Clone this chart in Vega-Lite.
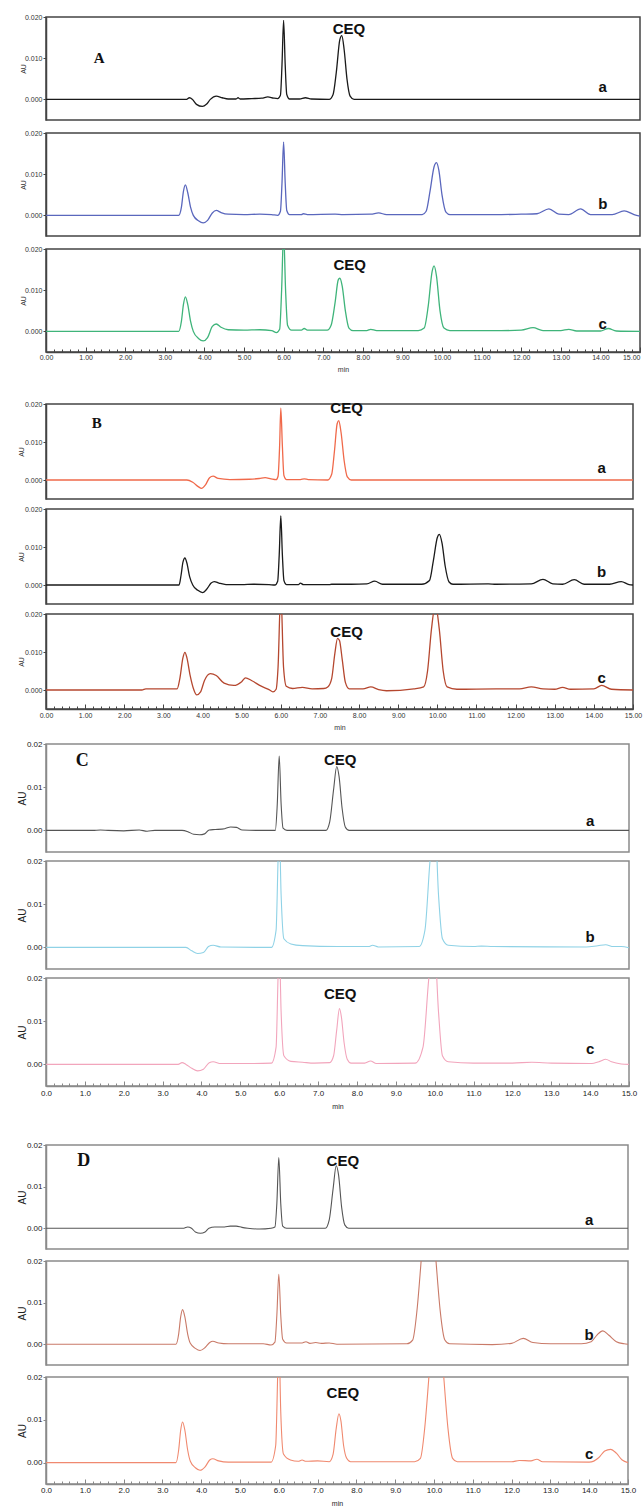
{
"$schema": "https://vega.github.io/schema/vega-lite/v6.json",
"background": "white",
"padding": {"left": 16, "top": 12, "right": 4, "bottom": 2},
"config": {"view": {"stroke": "#444", "strokeWidth": 1.5}},
"datasets": {
"labels": [
{"p":"Aa","k":"g","x":1.34,"y":0.0101,"t":"A"},{"p":"Aa","k":"ceq","x":7.65,"y":0.0171,"t":"CEQ"},{"p":"Aa","k":"s","x":14.06,"y":0.0031,"t":"a"},
{"p":"Ab","k":"s","x":14.06,"y":0.0028,"t":"b"},
{"p":"Ac","k":"ceq","x":7.67,"y":0.016,"t":"CEQ"},{"p":"Ac","k":"s","x":14.06,"y":0.0018,"t":"c"},
{"p":"Ba","k":"g","x":1.3,"y":0.0151,"t":"B"},{"p":"Ba","k":"ceq","x":7.68,"y":0.0189,"t":"CEQ"},{"p":"Ba","k":"s","x":14.2,"y":0.0032,"t":"a"},
{"p":"Bb","k":"s","x":14.2,"y":0.0033,"t":"b"},
{"p":"Bc","k":"ceq","x":7.68,"y":0.0152,"t":"CEQ"},{"p":"Bc","k":"s","x":14.2,"y":0.0032,"t":"c"},
{"p":"Ca","k":"g","x":0.93,"y":0.016,"t":"C"},{"p":"Ca","k":"ceq","x":7.57,"y":0.0162,"t":"CEQ"},{"p":"Ca","k":"s","x":14.0,"y":0.0022,"t":"a"},
{"p":"Cb","k":"s","x":14.0,"y":0.0025,"t":"b"},
{"p":"Cc","k":"ceq","x":7.57,"y":0.0162,"t":"CEQ"},{"p":"Cc","k":"s","x":14.0,"y":0.0035,"t":"c"},
{"p":"Da","k":"g","x":0.97,"y":0.0162,"t":"D"},{"p":"Da","k":"ceq","x":7.65,"y":0.0162,"t":"CEQ"},{"p":"Da","k":"s","x":14.0,"y":0.002,"t":"a"},
{"p":"Db","k":"s","x":14.0,"y":0.0022,"t":"b"},
{"p":"Dc","k":"ceq","x":7.65,"y":0.0162,"t":"CEQ"},{"p":"Dc","k":"s","x":14.0,"y":0.0019,"t":"c"}
],
"Aa": [{"x":0,"y":0},{"x":3.55,"y":0},{"x":3.62,"y":0.0004},{"x":3.7,"y":0},{"x":3.8,"y":-0.0012},{"x":3.95,"y":-0.0017},{"x":4.05,"y":-0.0012},{"x":4.15,"y":0},{"x":4.3,"y":0.0008},{"x":4.45,"y":0.0004},{"x":4.6,"y":0.0001},{"x":4.8,"y":0.0001},{"x":4.85,"y":0.0004},{"x":4.9,"y":0.0001},{"x":5.2,"y":0.0002},{"x":5.45,"y":0.0003},{"x":5.6,"y":0.0006},{"x":5.75,"y":0.0003},{"x":5.85,"y":0.0002},{"x":5.92,"y":0.001},{"x":5.96,"y":0.0085},{"x":6.0,"y":0.0192},{"x":6.04,"y":0.0085},{"x":6.08,"y":0.0012},{"x":6.15,"y":0.0001},{"x":6.4,"y":0.0001},{"x":6.55,"y":0.0004},{"x":6.7,"y":0.0001},{"x":7.15,"y":0},{"x":7.25,"y":0.0012},{"x":7.33,"y":0.0065},{"x":7.42,"y":0.0145},{"x":7.47,"y":0.0155},{"x":7.53,"y":0.012},{"x":7.6,"y":0.005},{"x":7.68,"y":0.0008},{"x":7.78,"y":0},{"x":15,"y":0}],
"Ab": [{"x":0,"y":0},{"x":3.35,"y":0},{"x":3.42,"y":0.002},{"x":3.47,"y":0.0058},{"x":3.52,"y":0.0074},{"x":3.58,"y":0.0055},{"x":3.65,"y":0.002},{"x":3.72,"y":0},{"x":3.85,"y":-0.0013},{"x":3.97,"y":-0.0018},{"x":4.08,"y":-0.0012},{"x":4.2,"y":0.0006},{"x":4.3,"y":0.0012},{"x":4.42,"y":0.0007},{"x":4.6,"y":0.0003},{"x":5.0,"y":0.0002},{"x":5.4,"y":0.0003},{"x":5.7,"y":0.0002},{"x":5.85,"y":0},{"x":5.92,"y":0.001},{"x":5.96,"y":0.008},{"x":6.0,"y":0.0178},{"x":6.04,"y":0.008},{"x":6.08,"y":0.0012},{"x":6.15,"y":0.0002},{"x":6.45,"y":0.0002},{"x":6.5,"y":0.0004},{"x":6.6,"y":0.0002},{"x":7.3,"y":0.0003},{"x":7.5,"y":0.0002},{"x":8.2,"y":0.0003},{"x":8.4,"y":0.0006},{"x":8.6,"y":0.0002},{"x":9.5,"y":0.0002},{"x":9.6,"y":0.001},{"x":9.7,"y":0.006},{"x":9.8,"y":0.0118},{"x":9.86,"y":0.0128},{"x":9.92,"y":0.011},{"x":10.0,"y":0.005},{"x":10.1,"y":0.0008},{"x":10.2,"y":0.0002},{"x":11.5,"y":0.0002},{"x":12.0,"y":0.0003},{"x":12.4,"y":0.0004},{"x":12.7,"y":0.0016},{"x":12.95,"y":0.0003},{"x":13.2,"y":0.0002},{"x":13.5,"y":0.0016},{"x":13.75,"y":0.0002},{"x":14.3,"y":0.0002},{"x":14.6,"y":0.0011},{"x":14.85,"y":0.0002},{"x":15,"y":-0.0002}],
"Ac": [{"x":0,"y":0},{"x":3.35,"y":0},{"x":3.42,"y":0.0025},{"x":3.47,"y":0.0065},{"x":3.52,"y":0.0084},{"x":3.58,"y":0.0065},{"x":3.65,"y":0.0025},{"x":3.72,"y":0},{"x":3.85,"y":-0.0017},{"x":3.97,"y":-0.0023},{"x":4.08,"y":-0.0015},{"x":4.2,"y":0.0012},{"x":4.3,"y":0.0018},{"x":4.42,"y":0.001},{"x":4.6,"y":0.0004},{"x":5.0,"y":0.0003},{"x":5.4,"y":0.0004},{"x":5.7,"y":0.0002},{"x":5.82,"y":-0.0003},{"x":5.9,"y":0.0005},{"x":5.95,"y":0.01},{"x":6.0,"y":0.024},{"x":6.05,"y":0.01},{"x":6.1,"y":0.0015},{"x":6.2,"y":0.0003},{"x":6.45,"y":0.0003},{"x":6.52,"y":0.0007},{"x":6.6,"y":0.0003},{"x":7.1,"y":0.0003},{"x":7.2,"y":0.0015},{"x":7.3,"y":0.007},{"x":7.38,"y":0.0125},{"x":7.42,"y":0.0129},{"x":7.48,"y":0.011},{"x":7.56,"y":0.005},{"x":7.65,"y":0.0008},{"x":7.75,"y":0.0002},{"x":8.1,"y":0.0002},{"x":8.2,"y":0.0005},{"x":8.35,"y":0.0002},{"x":9.4,"y":0.0002},{"x":9.55,"y":0.0008},{"x":9.65,"y":0.006},{"x":9.75,"y":0.0145},{"x":9.8,"y":0.0159},{"x":9.86,"y":0.0135},{"x":9.95,"y":0.005},{"x":10.05,"y":0.0008},{"x":10.2,"y":0.0002},{"x":11.5,"y":0.0002},{"x":12.0,"y":0.0003},{"x":12.3,"y":0.0009},{"x":12.55,"y":0.0002},{"x":13.0,"y":0.0002},{"x":13.2,"y":0.0005},{"x":13.4,"y":0.0001},{"x":14.0,"y":0.0001},{"x":14.2,"y":0.0007},{"x":14.4,"y":0.0001},{"x":15,"y":0}],
"Ba": [{"x":0,"y":0},{"x":3.6,"y":0},{"x":3.75,"y":-0.0006},{"x":3.9,"y":-0.0018},{"x":3.97,"y":-0.0022},{"x":4.08,"y":-0.0012},{"x":4.18,"y":0.0006},{"x":4.27,"y":0.001},{"x":4.4,"y":0.0004},{"x":4.7,"y":0.0001},{"x":5.2,"y":0.0002},{"x":5.45,"y":0.0004},{"x":5.6,"y":0.0006},{"x":5.75,"y":0.0003},{"x":5.88,"y":0.0001},{"x":5.93,"y":0.001},{"x":5.97,"y":0.009},{"x":6.0,"y":0.0189},{"x":6.04,"y":0.009},{"x":6.08,"y":0.0012},{"x":6.15,"y":0.0001},{"x":6.5,"y":0.0001},{"x":6.6,"y":0.0003},{"x":6.7,"y":0.0001},{"x":7.2,"y":0},{"x":7.3,"y":0.0015},{"x":7.37,"y":0.0075},{"x":7.44,"y":0.0148},{"x":7.48,"y":0.0156},{"x":7.54,"y":0.0125},{"x":7.62,"y":0.005},{"x":7.7,"y":0.0008},{"x":7.8,"y":0},{"x":15,"y":0}],
"Bb": [{"x":0,"y":0},{"x":3.4,"y":0},{"x":3.45,"y":0.0025},{"x":3.5,"y":0.006},{"x":3.55,"y":0.0071},{"x":3.6,"y":0.0058},{"x":3.67,"y":0.0022},{"x":3.75,"y":0},{"x":3.88,"y":-0.0014},{"x":4.0,"y":-0.002},{"x":4.1,"y":-0.0012},{"x":4.22,"y":0.0005},{"x":4.3,"y":0.0009},{"x":4.42,"y":0.0005},{"x":4.6,"y":0.0001},{"x":5.0,"y":0.0001},{"x":5.3,"y":0.0002},{"x":5.7,"y":0.0001},{"x":5.85,"y":0},{"x":5.92,"y":0.001},{"x":5.96,"y":0.008},{"x":6.0,"y":0.0182},{"x":6.04,"y":0.008},{"x":6.08,"y":0.0012},{"x":6.15,"y":0.0001},{"x":6.45,"y":0.0001},{"x":6.5,"y":0.0005},{"x":6.58,"y":0.0001},{"x":7.25,"y":0.0001},{"x":7.3,"y":0.0002},{"x":7.8,"y":0.0002},{"x":8.2,"y":0.0003},{"x":8.4,"y":0.001},{"x":8.6,"y":0.0002},{"x":9.6,"y":0.0002},{"x":9.8,"y":0.0012},{"x":9.9,"y":0.0065},{"x":10.0,"y":0.0125},{"x":10.05,"y":0.0133},{"x":10.12,"y":0.011},{"x":10.2,"y":0.005},{"x":10.3,"y":0.0008},{"x":10.4,"y":0.0002},{"x":11.3,"y":0.0003},{"x":11.5,"y":0.0002},{"x":12.4,"y":0.0003},{"x":12.7,"y":0.0015},{"x":12.95,"y":0.0003},{"x":13.2,"y":0.0002},{"x":13.5,"y":0.0014},{"x":13.75,"y":0.0002},{"x":14.4,"y":0.0002},{"x":14.7,"y":0.0009},{"x":14.9,"y":0.0001},{"x":15,"y":0}],
"Bc": [{"x":0,"y":0},{"x":2.45,"y":0},{"x":2.55,"y":0.0003},{"x":3.35,"y":0.0003},{"x":3.42,"y":0.003},{"x":3.5,"y":0.0085},{"x":3.55,"y":0.0099},{"x":3.6,"y":0.0085},{"x":3.68,"y":0.004},{"x":3.78,"y":0},{"x":3.85,"y":-0.0013},{"x":3.95,"y":-0.0005},{"x":4.05,"y":0.0025},{"x":4.2,"y":0.0043},{"x":4.35,"y":0.0038},{"x":4.55,"y":0.0018},{"x":4.8,"y":0.0012},{"x":5.0,"y":0.0022},{"x":5.1,"y":0.0032},{"x":5.25,"y":0.0025},{"x":5.5,"y":0.001},{"x":5.7,"y":0.0001},{"x":5.8,"y":-0.0005},{"x":5.88,"y":0.0002},{"x":5.93,"y":0.006},{"x":6.0,"y":0.026},{"x":6.07,"y":0.006},{"x":6.14,"y":0.001},{"x":6.3,"y":0.0004},{"x":6.55,"y":0.0007},{"x":6.8,"y":0.0003},{"x":7.1,"y":0.0004},{"x":7.2,"y":0.0008},{"x":7.3,"y":0.003},{"x":7.38,"y":0.0095},{"x":7.45,"y":0.0136},{"x":7.5,"y":0.013},{"x":7.57,"y":0.008},{"x":7.65,"y":0.002},{"x":7.75,"y":0.0003},{"x":8.1,"y":0.0003},{"x":8.3,"y":0.0008},{"x":8.5,"y":0.0001},{"x":8.7,"y":-0.0002},{"x":9.4,"y":0.0003},{"x":9.65,"y":0.0008},{"x":9.75,"y":0.005},{"x":9.85,"y":0.016},{"x":9.95,"y":0.0225},{"x":10.05,"y":0.016},{"x":10.15,"y":0.005},{"x":10.25,"y":0.0008},{"x":10.5,"y":0.0002},{"x":11.5,"y":0.0003},{"x":12.1,"y":0.0003},{"x":12.4,"y":0.0008},{"x":12.7,"y":0.0003},{"x":13.0,"y":0.0002},{"x":13.2,"y":0.0007},{"x":13.4,"y":0.0002},{"x":14.0,"y":0.0003},{"x":14.2,"y":0.0012},{"x":14.45,"y":0.0002},{"x":15,"y":0}],
"Ca": [{"x":0,"y":0},{"x":1.2,"y":0},{"x":1.4,"y":0.0001},{"x":1.6,"y":0},{"x":2.0,"y":-0.0001},{"x":2.4,"y":0.0001},{"x":2.6,"y":-0.0002},{"x":2.8,"y":0},{"x":3.5,"y":0},{"x":3.65,"y":-0.0003},{"x":3.8,"y":-0.0009},{"x":3.95,"y":-0.001},{"x":4.08,"y":-0.0008},{"x":4.2,"y":0.0001},{"x":4.35,"y":0.0002},{"x":4.6,"y":0.0004},{"x":4.75,"y":0.0008},{"x":4.9,"y":0.0007},{"x":5.05,"y":0.0001},{"x":5.5,"y":0},{"x":5.9,"y":0},{"x":5.95,"y":0.006},{"x":6.0,"y":0.0172},{"x":6.05,"y":0.006},{"x":6.1,"y":0.0005},{"x":6.2,"y":0},{"x":7.2,"y":0},{"x":7.3,"y":0.002},{"x":7.4,"y":0.0095},{"x":7.48,"y":0.0148},{"x":7.54,"y":0.0125},{"x":7.62,"y":0.005},{"x":7.7,"y":0.0008},{"x":7.8,"y":0},{"x":15,"y":0}],
"Cb": [{"x":0,"y":0},{"x":3.6,"y":0},{"x":3.75,"y":-0.0008},{"x":3.9,"y":-0.0014},{"x":4.05,"y":-0.0012},{"x":4.18,"y":0.0002},{"x":4.3,"y":0.0005},{"x":4.5,"y":0.0001},{"x":5.8,"y":0},{"x":5.92,"y":0.004},{"x":5.97,"y":0.02},{"x":6.0,"y":0.028},{"x":6.05,"y":0.012},{"x":6.12,"y":0.002},{"x":6.3,"y":0.0008},{"x":6.6,"y":0.0004},{"x":7.5,"y":0.0002},{"x":8.3,"y":0.0002},{"x":8.4,"y":0.0005},{"x":8.55,"y":0.0001},{"x":9.6,"y":0.0002},{"x":9.75,"y":0.004},{"x":9.88,"y":0.02},{"x":10.0,"y":0.03},{"x":10.1,"y":0.012},{"x":10.2,"y":0.002},{"x":10.35,"y":0.0005},{"x":11.0,"y":0.0002},{"x":11.2,"y":0.0003},{"x":11.5,"y":0.0002},{"x":13.9,"y":0.0001},{"x":14.2,"y":0.0004},{"x":14.4,"y":0.0006},{"x":14.6,"y":0.0002},{"x":14.8,"y":0.0002},{"x":15,"y":-0.0001}],
"Cc": [{"x":0,"y":0},{"x":3.4,"y":0},{"x":3.5,"y":0.0004},{"x":3.6,"y":0},{"x":3.75,"y":-0.0009},{"x":3.9,"y":-0.0015},{"x":4.05,"y":-0.0011},{"x":4.2,"y":0.0004},{"x":4.3,"y":0.0006},{"x":4.5,"y":0.0002},{"x":5.0,"y":0.0002},{"x":5.8,"y":0.0003},{"x":5.92,"y":0.004},{"x":5.97,"y":0.02},{"x":6.0,"y":0.028},{"x":6.05,"y":0.012},{"x":6.12,"y":0.002},{"x":6.3,"y":0.0007},{"x":6.6,"y":0.0005},{"x":6.9,"y":0.0003},{"x":7.3,"y":0.0004},{"x":7.4,"y":0.002},{"x":7.48,"y":0.008},{"x":7.55,"y":0.0129},{"x":7.6,"y":0.011},{"x":7.67,"y":0.005},{"x":7.75,"y":0.0012},{"x":7.85,"y":0.0003},{"x":8.2,"y":0.0003},{"x":8.35,"y":0.0008},{"x":8.5,"y":0.0002},{"x":9.5,"y":0.0003},{"x":9.7,"y":0.004},{"x":9.85,"y":0.02},{"x":9.98,"y":0.03},{"x":10.1,"y":0.012},{"x":10.2,"y":0.002},{"x":10.35,"y":0.0006},{"x":11.0,"y":0.0003},{"x":12.0,"y":0.0003},{"x":12.5,"y":0.0005},{"x":13.0,"y":0.0003},{"x":14.0,"y":0.0002},{"x":14.25,"y":0.0007},{"x":14.4,"y":0.0012},{"x":14.55,"y":0.0006},{"x":14.8,"y":0.0001},{"x":15,"y":0}],
"Da": [{"x":0,"y":0},{"x":3.55,"y":0},{"x":3.65,"y":0.0003},{"x":3.75,"y":0},{"x":3.85,"y":-0.0009},{"x":3.98,"y":-0.0012},{"x":4.1,"y":-0.0009},{"x":4.2,"y":0},{"x":4.35,"y":0.0003},{"x":4.6,"y":0.0003},{"x":4.75,"y":0.0005},{"x":4.9,"y":0.0005},{"x":5.05,"y":0.0002},{"x":5.2,"y":0},{"x":5.5,"y":-0.0002},{"x":5.8,"y":0},{"x":5.9,"y":0.0003},{"x":5.95,"y":0.006},{"x":6.0,"y":0.017},{"x":6.05,"y":0.006},{"x":6.1,"y":0.0005},{"x":6.2,"y":0},{"x":7.2,"y":0},{"x":7.3,"y":0.002},{"x":7.4,"y":0.0095},{"x":7.48,"y":0.015},{"x":7.54,"y":0.0128},{"x":7.62,"y":0.005},{"x":7.7,"y":0.0008},{"x":7.8,"y":0},{"x":15,"y":0}],
"Db": [{"x":0,"y":0},{"x":3.35,"y":0},{"x":3.42,"y":0.0025},{"x":3.47,"y":0.0065},{"x":3.52,"y":0.0083},{"x":3.58,"y":0.0065},{"x":3.65,"y":0.0025},{"x":3.72,"y":0.0002},{"x":3.85,"y":-0.001},{"x":3.97,"y":-0.0015},{"x":4.1,"y":-0.0008},{"x":4.22,"y":0.0004},{"x":4.3,"y":0.0007},{"x":4.45,"y":0.0003},{"x":4.7,"y":0.0001},{"x":5.6,"y":0.0001},{"x":5.8,"y":-0.0002},{"x":5.9,"y":0.0005},{"x":5.95,"y":0.007},{"x":6.0,"y":0.0168},{"x":6.05,"y":0.007},{"x":6.1,"y":0.0012},{"x":6.2,"y":0.0003},{"x":6.6,"y":0.0003},{"x":6.7,"y":0.0006},{"x":6.8,"y":0.0002},{"x":6.95,"y":0.0004},{"x":7.1,"y":0.0002},{"x":7.3,"y":0.0003},{"x":7.5,"y":0},{"x":9.3,"y":0.0001},{"x":9.45,"y":0.001},{"x":9.56,"y":0.008},{"x":9.66,"y":0.019},{"x":9.75,"y":0.03},{"x":9.86,"y":0.038},{"x":9.97,"y":0.03},{"x":10.06,"y":0.019},{"x":10.16,"y":0.008},{"x":10.28,"y":0.001},{"x":10.4,"y":0.0001},{"x":11.5,"y":-0.0001},{"x":12.0,"y":0.0002},{"x":12.3,"y":0.0014},{"x":12.55,"y":0.0004},{"x":13.0,"y":0.0001},{"x":13.8,"y":0.0001},{"x":14.05,"y":0.0006},{"x":14.2,"y":0.0022},{"x":14.35,"y":0.0032},{"x":14.5,"y":0.0022},{"x":14.7,"y":0.0006},{"x":14.9,"y":0.0001},{"x":15,"y":0}],
"Dc": [{"x":0,"y":0},{"x":3.35,"y":0},{"x":3.42,"y":0.003},{"x":3.47,"y":0.0075},{"x":3.52,"y":0.0095},{"x":3.58,"y":0.0075},{"x":3.65,"y":0.003},{"x":3.72,"y":0.0003},{"x":3.85,"y":-0.0012},{"x":3.97,"y":-0.0018},{"x":4.1,"y":-0.001},{"x":4.22,"y":0.0006},{"x":4.3,"y":0.0009},{"x":4.45,"y":0.0004},{"x":4.7,"y":0.0001},{"x":5.8,"y":0.0001},{"x":5.92,"y":0.004},{"x":5.97,"y":0.02},{"x":6.0,"y":0.03},{"x":6.05,"y":0.012},{"x":6.12,"y":0.002},{"x":6.3,"y":0.0006},{"x":6.5,"y":0.0003},{"x":6.6,"y":0.0006},{"x":6.7,"y":0.0003},{"x":7.0,"y":0.0004},{"x":7.3,"y":0.0002},{"x":7.4,"y":0.002},{"x":7.48,"y":0.008},{"x":7.55,"y":0.0114},{"x":7.6,"y":0.0098},{"x":7.67,"y":0.004},{"x":7.75,"y":0.001},{"x":7.85,"y":0.0002},{"x":9.5,"y":0.0002},{"x":9.65,"y":0.001},{"x":9.76,"y":0.008},{"x":9.86,"y":0.019},{"x":9.95,"y":0.03},{"x":10.06,"y":0.038},{"x":10.17,"y":0.03},{"x":10.26,"y":0.019},{"x":10.36,"y":0.008},{"x":10.48,"y":0.001},{"x":10.6,"y":0.0002},{"x":12.0,"y":0.0002},{"x":12.2,"y":0.0005},{"x":12.5,"y":0.0004},{"x":12.65,"y":0.0008},{"x":12.8,"y":0.0002},{"x":14.0,"y":0.0001},{"x":14.25,"y":0.0012},{"x":14.4,"y":0.0027},{"x":14.55,"y":0.0031},{"x":14.7,"y":0.0022},{"x":14.85,"y":0.0006},{"x":15,"y":0}]
},
"spacing": 8,
"vconcat": [
{"spacing": 26, "vconcat": [
 {"spacing": 7, "vconcat": [
  {"width": 594, "height": 103, "view": {"stroke": "#444", "strokeWidth": 1.5},
   "encoding": {"x": {"field": "x", "type": "quantitative", "scale": {"domain": [0, 15], "nice": false, "zero": false}, "axis": null},
     "y": {"field": "y", "type": "quantitative", "scale": {"domain": [-0.005, 0.02], "nice": false, "zero": false}, "axis": {"values": [0, 0.01, 0.02], "format": ".3f", "title": "AU", "titleFont": "Liberation Sans", "titleFontSize": 7, "titleFontWeight": "normal", "titleColor": "#333", "titlePadding": 2, "labelFont": "Liberation Sans", "labelFontSize": 7, "labelColor": "#333", "labelPadding": 1, "tickSize": 3, "tickColor": "#444", "domainColor": "#444", "domainWidth": 1.5, "grid": false, "minExtent": 18, "maxExtent": 18, "labelFlush": false, "labelOverlap": false}}},
   "layer": [
    {"data": {"name": "Aa"}, "mark": {"type": "line", "color": "#1a1a1a", "strokeWidth": 1.3, "clip": true, "interpolate": "monotone"}},
    {"data": {"name": "labels"}, "transform": [{"filter": "datum.p == 'Aa' && datum.k == 'g'"}], "mark": {"type": "text", "font": "Liberation Serif", "fontWeight": "bold", "fontSize": 15, "color": "#111"}, "encoding": {"text": {"field": "t"}}},
    {"data": {"name": "labels"}, "transform": [{"filter": "datum.p == 'Aa' && datum.k == 'ceq'"}], "mark": {"type": "text", "font": "Liberation Sans", "fontWeight": "bold", "fontSize": 15, "color": "#111"}, "encoding": {"text": {"field": "t"}}},
    {"data": {"name": "labels"}, "transform": [{"filter": "datum.p == 'Aa' && datum.k == 's'"}], "mark": {"type": "text", "font": "Liberation Sans", "fontWeight": "bold", "fontSize": 15, "color": "#111"}, "encoding": {"text": {"field": "t"}}}
   ]},
  {"width": 594, "height": 103, "view": {"stroke": "#444", "strokeWidth": 1.5},
   "encoding": {"x": {"field": "x", "type": "quantitative", "scale": {"domain": [0, 15], "nice": false, "zero": false}, "axis": null},
     "y": {"field": "y", "type": "quantitative", "scale": {"domain": [-0.005, 0.02], "nice": false, "zero": false}, "axis": {"values": [0, 0.01, 0.02], "format": ".3f", "title": "AU", "titleFont": "Liberation Sans", "titleFontSize": 7, "titleFontWeight": "normal", "titleColor": "#333", "titlePadding": 2, "labelFont": "Liberation Sans", "labelFontSize": 7, "labelColor": "#333", "labelPadding": 1, "tickSize": 3, "tickColor": "#444", "domainColor": "#444", "domainWidth": 1.5, "grid": false, "minExtent": 18, "maxExtent": 18, "labelFlush": false, "labelOverlap": false}}},
   "layer": [
    {"data": {"name": "Ab"}, "mark": {"type": "line", "color": "#5a67bd", "strokeWidth": 1.3, "clip": true, "interpolate": "monotone"}},
    {"data": {"name": "labels"}, "transform": [{"filter": "datum.p == 'Ab' && datum.k == 's'"}], "mark": {"type": "text", "font": "Liberation Sans", "fontWeight": "bold", "fontSize": 15, "color": "#111"}, "encoding": {"text": {"field": "t"}}}
   ]},
  {"width": 594, "height": 103, "view": {"stroke": "#444", "strokeWidth": 1.5},
   "encoding": {"x": {"field": "x", "type": "quantitative", "scale": {"domain": [0, 15], "nice": false, "zero": false}, "axis": {"values": [0,0.2,0.4,0.6,0.8,1,1.2,1.4,1.6,1.8,2,2.2,2.4,2.6,2.8,3,3.2,3.4,3.6,3.8,4,4.2,4.4,4.6,4.8,5,5.2,5.4,5.6,5.8,6,6.2,6.4,6.6,6.8,7,7.2,7.4,7.6,7.8,8,8.2,8.4,8.6,8.8,9,9.2,9.4,9.6,9.8,10,10.2,10.4,10.6,10.8,11,11.2,11.4,11.6,11.8,12,12.2,12.4,12.6,12.8,13,13.2,13.4,13.6,13.8,14,14.2,14.4,14.6,14.8,15], "labelExpr": "abs(datum.value - round(datum.value)) < 0.01 ? format(datum.value, '.2f') : ''", "labelAlign": {"condition": {"test": "datum.value > 14.9", "value": "right"}, "value": "center"}, "tickSize": {"condition": {"test": "abs(datum.value - round(datum.value)) < 0.01", "value": -5}, "value": -3}, "labelPadding": 6, "title": "min", "titleFont": "Liberation Sans", "titleFontSize": 7, "titleFontWeight": "normal", "titleColor": "#333", "titlePadding": 3, "labelFont": "Liberation Sans", "labelFontSize": 7, "labelColor": "#333", "labelOverlap": false, "labelFlush": false, "grid": false, "domainColor": "#444", "domainWidth": 1.5, "tickColor": "#444"}},
     "y": {"field": "y", "type": "quantitative", "scale": {"domain": [-0.005, 0.02], "nice": false, "zero": false}, "axis": {"values": [0, 0.01, 0.02], "format": ".3f", "title": "AU", "titleFont": "Liberation Sans", "titleFontSize": 7, "titleFontWeight": "normal", "titleColor": "#333", "titlePadding": 2, "labelFont": "Liberation Sans", "labelFontSize": 7, "labelColor": "#333", "labelPadding": 1, "tickSize": 3, "tickColor": "#444", "domainColor": "#444", "domainWidth": 1.5, "grid": false, "minExtent": 18, "maxExtent": 18, "labelFlush": false, "labelOverlap": false}}},
   "layer": [
    {"data": {"name": "Ac"}, "mark": {"type": "line", "color": "#3fb47a", "strokeWidth": 1.3, "clip": true, "interpolate": "monotone"}},
    {"data": {"name": "labels"}, "transform": [{"filter": "datum.p == 'Ac' && datum.k == 'ceq'"}], "mark": {"type": "text", "font": "Liberation Sans", "fontWeight": "bold", "fontSize": 15, "color": "#111"}, "encoding": {"text": {"field": "t"}}},
    {"data": {"name": "labels"}, "transform": [{"filter": "datum.p == 'Ac' && datum.k == 's'"}], "mark": {"type": "text", "font": "Liberation Sans", "fontWeight": "bold", "fontSize": 15, "color": "#111"}, "encoding": {"text": {"field": "t"}}}
   ]}
 ]},
 {"spacing": 4, "vconcat": [
  {"width": 587, "height": 95, "view": {"stroke": "#444", "strokeWidth": 1.5},
   "encoding": {"x": {"field": "x", "type": "quantitative", "scale": {"domain": [0, 15], "nice": false, "zero": false}, "axis": null},
     "y": {"field": "y", "type": "quantitative", "scale": {"domain": [-0.005, 0.02], "nice": false, "zero": false}, "axis": {"values": [0, 0.01, 0.02], "format": ".3f", "title": "AU", "titleFont": "Liberation Sans", "titleFontSize": 7, "titleFontWeight": "normal", "titleColor": "#333", "titlePadding": 4, "labelFont": "Liberation Sans", "labelFontSize": 7, "labelColor": "#333", "labelPadding": 1, "tickSize": 3, "tickColor": "#444", "domainColor": "#444", "domainWidth": 1.5, "grid": false, "minExtent": 18, "maxExtent": 18, "labelFlush": false, "labelOverlap": false}}},
   "layer": [
    {"data": {"name": "Ba"}, "mark": {"type": "line", "color": "#f0694a", "strokeWidth": 1.3, "clip": true, "interpolate": "monotone"}},
    {"data": {"name": "labels"}, "transform": [{"filter": "datum.p == 'Ba' && datum.k == 'g'"}], "mark": {"type": "text", "font": "Liberation Serif", "fontWeight": "bold", "fontSize": 15, "color": "#111"}, "encoding": {"text": {"field": "t"}}},
    {"data": {"name": "labels"}, "transform": [{"filter": "datum.p == 'Ba' && datum.k == 'ceq'"}], "mark": {"type": "text", "font": "Liberation Sans", "fontWeight": "bold", "fontSize": 15, "color": "#111"}, "encoding": {"text": {"field": "t"}}},
    {"data": {"name": "labels"}, "transform": [{"filter": "datum.p == 'Ba' && datum.k == 's'"}], "mark": {"type": "text", "font": "Liberation Sans", "fontWeight": "bold", "fontSize": 15, "color": "#111"}, "encoding": {"text": {"field": "t"}}}
   ]},
  {"width": 587, "height": 95, "view": {"stroke": "#444", "strokeWidth": 1.5},
   "encoding": {"x": {"field": "x", "type": "quantitative", "scale": {"domain": [0, 15], "nice": false, "zero": false}, "axis": null},
     "y": {"field": "y", "type": "quantitative", "scale": {"domain": [-0.005, 0.02], "nice": false, "zero": false}, "axis": {"values": [0, 0.01, 0.02], "format": ".3f", "title": "AU", "titleFont": "Liberation Sans", "titleFontSize": 7, "titleFontWeight": "normal", "titleColor": "#333", "titlePadding": 4, "labelFont": "Liberation Sans", "labelFontSize": 7, "labelColor": "#333", "labelPadding": 1, "tickSize": 3, "tickColor": "#444", "domainColor": "#444", "domainWidth": 1.5, "grid": false, "minExtent": 18, "maxExtent": 18, "labelFlush": false, "labelOverlap": false}}},
   "layer": [
    {"data": {"name": "Bb"}, "mark": {"type": "line", "color": "#1a1a1a", "strokeWidth": 1.3, "clip": true, "interpolate": "monotone"}},
    {"data": {"name": "labels"}, "transform": [{"filter": "datum.p == 'Bb' && datum.k == 's'"}], "mark": {"type": "text", "font": "Liberation Sans", "fontWeight": "bold", "fontSize": 15, "color": "#111"}, "encoding": {"text": {"field": "t"}}}
   ]},
  {"width": 587, "height": 95, "view": {"stroke": "#444", "strokeWidth": 1.5},
   "encoding": {"x": {"field": "x", "type": "quantitative", "scale": {"domain": [0, 15], "nice": false, "zero": false}, "axis": {"values": [0,0.2,0.4,0.6,0.8,1,1.2,1.4,1.6,1.8,2,2.2,2.4,2.6,2.8,3,3.2,3.4,3.6,3.8,4,4.2,4.4,4.6,4.8,5,5.2,5.4,5.6,5.8,6,6.2,6.4,6.6,6.8,7,7.2,7.4,7.6,7.8,8,8.2,8.4,8.6,8.8,9,9.2,9.4,9.6,9.8,10,10.2,10.4,10.6,10.8,11,11.2,11.4,11.6,11.8,12,12.2,12.4,12.6,12.8,13,13.2,13.4,13.6,13.8,14,14.2,14.4,14.6,14.8,15], "labelExpr": "abs(datum.value - round(datum.value)) < 0.01 ? format(datum.value, '.2f') : ''", "tickSize": {"condition": {"test": "abs(datum.value - round(datum.value)) < 0.01", "value": -5}, "value": -3}, "labelPadding": 7, "title": "min", "titleFont": "Liberation Sans", "titleFontSize": 7, "titleFontWeight": "normal", "titleColor": "#333", "titlePadding": 3, "labelFont": "Liberation Sans", "labelFontSize": 7, "labelColor": "#333", "labelOverlap": false, "labelFlush": false, "grid": false, "domainColor": "#444", "domainWidth": 1.5, "tickColor": "#444"}},
     "y": {"field": "y", "type": "quantitative", "scale": {"domain": [-0.005, 0.02], "nice": false, "zero": false}, "axis": {"values": [0, 0.01, 0.02], "format": ".3f", "title": "AU", "titleFont": "Liberation Sans", "titleFontSize": 7, "titleFontWeight": "normal", "titleColor": "#333", "titlePadding": 4, "labelFont": "Liberation Sans", "labelFontSize": 7, "labelColor": "#333", "labelPadding": 1, "tickSize": 3, "tickColor": "#444", "domainColor": "#444", "domainWidth": 1.5, "grid": false, "minExtent": 18, "maxExtent": 18, "labelFlush": false, "labelOverlap": false}}},
   "layer": [
    {"data": {"name": "Bc"}, "mark": {"type": "line", "color": "#b5472f", "strokeWidth": 1.3, "clip": true, "interpolate": "monotone"}},
    {"data": {"name": "labels"}, "transform": [{"filter": "datum.p == 'Bc' && datum.k == 'ceq'"}], "mark": {"type": "text", "font": "Liberation Sans", "fontWeight": "bold", "fontSize": 15, "color": "#111"}, "encoding": {"text": {"field": "t"}}},
    {"data": {"name": "labels"}, "transform": [{"filter": "datum.p == 'Bc' && datum.k == 's'"}], "mark": {"type": "text", "font": "Liberation Sans", "fontWeight": "bold", "fontSize": 15, "color": "#111"}, "encoding": {"text": {"field": "t"}}}
   ]}
 ]}
]},
{"spacing": 30, "vconcat": [
 {"spacing": 3, "vconcat": [
  {"width": 583, "height": 108, "view": {"stroke": "#8a8a8a", "strokeWidth": 1.5},
   "encoding": {"x": {"field": "x", "type": "quantitative", "scale": {"domain": [0, 15], "nice": false, "zero": false}, "axis": null},
     "y": {"field": "y", "type": "quantitative", "scale": {"domain": [-0.005, 0.02], "nice": false, "zero": false}, "axis": {"values": [0, 0.01, 0.02], "format": ".2f", "title": "AU", "titleFont": "Liberation Sans", "titleFontSize": 10, "titleFontWeight": "normal", "titleColor": "#222", "titlePadding": 1, "labelFont": "Liberation Sans", "labelFontSize": 8, "labelColor": "#222", "labelPadding": 1, "tickSize": 3, "tickColor": "#888", "domainColor": "#8a8a8a", "domainWidth": 1.5, "grid": false, "minExtent": 18, "maxExtent": 18, "labelFlush": false, "labelOverlap": false}}},
   "layer": [
    {"data": {"name": "Ca"}, "mark": {"type": "line", "color": "#555555", "strokeWidth": 1.1, "clip": true, "interpolate": "monotone"}},
    {"data": {"name": "labels"}, "transform": [{"filter": "datum.p == 'Ca' && datum.k == 'g'"}], "mark": {"type": "text", "font": "Liberation Serif", "fontWeight": "bold", "fontSize": 18, "color": "#111"}, "encoding": {"text": {"field": "t"}}},
    {"data": {"name": "labels"}, "transform": [{"filter": "datum.p == 'Ca' && datum.k == 'ceq'"}], "mark": {"type": "text", "font": "Liberation Sans", "fontWeight": "bold", "fontSize": 15, "color": "#111"}, "encoding": {"text": {"field": "t"}}},
    {"data": {"name": "labels"}, "transform": [{"filter": "datum.p == 'Ca' && datum.k == 's'"}], "mark": {"type": "text", "font": "Liberation Sans", "fontWeight": "bold", "fontSize": 15, "color": "#111"}, "encoding": {"text": {"field": "t"}}}
   ]},
  {"width": 583, "height": 108, "view": {"stroke": "#8a8a8a", "strokeWidth": 1.5},
   "encoding": {"x": {"field": "x", "type": "quantitative", "scale": {"domain": [0, 15], "nice": false, "zero": false}, "axis": null},
     "y": {"field": "y", "type": "quantitative", "scale": {"domain": [-0.005, 0.02], "nice": false, "zero": false}, "axis": {"values": [0, 0.01, 0.02], "format": ".2f", "title": "AU", "titleFont": "Liberation Sans", "titleFontSize": 10, "titleFontWeight": "normal", "titleColor": "#222", "titlePadding": 1, "labelFont": "Liberation Sans", "labelFontSize": 8, "labelColor": "#222", "labelPadding": 1, "tickSize": 3, "tickColor": "#888", "domainColor": "#8a8a8a", "domainWidth": 1.5, "grid": false, "minExtent": 18, "maxExtent": 18, "labelFlush": false, "labelOverlap": false}}},
   "layer": [
    {"data": {"name": "Cb"}, "mark": {"type": "line", "color": "#8fd2e6", "strokeWidth": 1.1, "clip": true, "interpolate": "monotone"}},
    {"data": {"name": "labels"}, "transform": [{"filter": "datum.p == 'Cb' && datum.k == 's'"}], "mark": {"type": "text", "font": "Liberation Sans", "fontWeight": "bold", "fontSize": 15, "color": "#111"}, "encoding": {"text": {"field": "t"}}}
   ]},
  {"width": 583, "height": 108, "view": {"stroke": "#8a8a8a", "strokeWidth": 1.5},
   "encoding": {"x": {"field": "x", "type": "quantitative", "scale": {"domain": [0, 15], "nice": false, "zero": false}, "axis": {"values": [0,0.2,0.4,0.6,0.8,1,1.2,1.4,1.6,1.8,2,2.2,2.4,2.6,2.8,3,3.2,3.4,3.6,3.8,4,4.2,4.4,4.6,4.8,5,5.2,5.4,5.6,5.8,6,6.2,6.4,6.6,6.8,7,7.2,7.4,7.6,7.8,8,8.2,8.4,8.6,8.8,9,9.2,9.4,9.6,9.8,10,10.2,10.4,10.6,10.8,11,11.2,11.4,11.6,11.8,12,12.2,12.4,12.6,12.8,13,13.2,13.4,13.6,13.8,14,14.2,14.4,14.6,14.8,15], "labelExpr": "abs(datum.value - round(datum.value)) < 0.01 ? format(datum.value, '.1f') : ''", "tickSize": {"condition": {"test": "abs(datum.value - round(datum.value)) < 0.01", "value": -5}, "value": -3}, "labelPadding": 8, "title": "min", "titleFont": "Liberation Sans", "titleFontSize": 7, "titleFontWeight": "normal", "titleColor": "#222", "titlePadding": 3, "labelFont": "Liberation Sans", "labelFontSize": 8, "labelColor": "#222", "labelOverlap": false, "labelFlush": false, "grid": false, "domainColor": "#8a8a8a", "domainWidth": 1.5, "tickColor": "#888"}},
     "y": {"field": "y", "type": "quantitative", "scale": {"domain": [-0.005, 0.02], "nice": false, "zero": false}, "axis": {"values": [0, 0.01, 0.02], "format": ".2f", "title": "AU", "titleFont": "Liberation Sans", "titleFontSize": 10, "titleFontWeight": "normal", "titleColor": "#222", "titlePadding": 1, "labelFont": "Liberation Sans", "labelFontSize": 8, "labelColor": "#222", "labelPadding": 1, "tickSize": 3, "tickColor": "#888", "domainColor": "#8a8a8a", "domainWidth": 1.5, "grid": false, "minExtent": 18, "maxExtent": 18, "labelFlush": false, "labelOverlap": false}}},
   "layer": [
    {"data": {"name": "Cc"}, "mark": {"type": "line", "color": "#f2a5bc", "strokeWidth": 1.1, "clip": true, "interpolate": "monotone"}},
    {"data": {"name": "labels"}, "transform": [{"filter": "datum.p == 'Cc' && datum.k == 'ceq'"}], "mark": {"type": "text", "font": "Liberation Sans", "fontWeight": "bold", "fontSize": 15, "color": "#111"}, "encoding": {"text": {"field": "t"}}},
    {"data": {"name": "labels"}, "transform": [{"filter": "datum.p == 'Cc' && datum.k == 's'"}], "mark": {"type": "text", "font": "Liberation Sans", "fontWeight": "bold", "fontSize": 15, "color": "#111"}, "encoding": {"text": {"field": "t"}}}
   ]}
 ]},
 {"spacing": 6, "vconcat": [
  {"width": 582, "height": 104, "view": {"stroke": "#8a8a8a", "strokeWidth": 1.5},
   "encoding": {"x": {"field": "x", "type": "quantitative", "scale": {"domain": [0, 15], "nice": false, "zero": false}, "axis": null},
     "y": {"field": "y", "type": "quantitative", "scale": {"domain": [-0.005, 0.02], "nice": false, "zero": false}, "axis": {"values": [0, 0.01, 0.02], "format": ".2f", "title": "AU", "titleFont": "Liberation Sans", "titleFontSize": 10, "titleFontWeight": "normal", "titleColor": "#222", "titlePadding": 1, "labelFont": "Liberation Sans", "labelFontSize": 8, "labelColor": "#222", "labelPadding": 1, "tickSize": 3, "tickColor": "#888", "domainColor": "#8a8a8a", "domainWidth": 1.5, "grid": false, "minExtent": 18, "maxExtent": 18, "labelFlush": false, "labelOverlap": false}}},
   "layer": [
    {"data": {"name": "Da"}, "mark": {"type": "line", "color": "#555555", "strokeWidth": 1.1, "clip": true, "interpolate": "monotone"}},
    {"data": {"name": "labels"}, "transform": [{"filter": "datum.p == 'Da' && datum.k == 'g'"}], "mark": {"type": "text", "font": "Liberation Serif", "fontWeight": "bold", "fontSize": 18, "color": "#111"}, "encoding": {"text": {"field": "t"}}},
    {"data": {"name": "labels"}, "transform": [{"filter": "datum.p == 'Da' && datum.k == 'ceq'"}], "mark": {"type": "text", "font": "Liberation Sans", "fontWeight": "bold", "fontSize": 15, "color": "#111"}, "encoding": {"text": {"field": "t"}}},
    {"data": {"name": "labels"}, "transform": [{"filter": "datum.p == 'Da' && datum.k == 's'"}], "mark": {"type": "text", "font": "Liberation Sans", "fontWeight": "bold", "fontSize": 15, "color": "#111"}, "encoding": {"text": {"field": "t"}}}
   ]},
  {"width": 582, "height": 104, "view": {"stroke": "#8a8a8a", "strokeWidth": 1.5},
   "encoding": {"x": {"field": "x", "type": "quantitative", "scale": {"domain": [0, 15], "nice": false, "zero": false}, "axis": null},
     "y": {"field": "y", "type": "quantitative", "scale": {"domain": [-0.005, 0.02], "nice": false, "zero": false}, "axis": {"values": [0, 0.01, 0.02], "format": ".2f", "title": "AU", "titleFont": "Liberation Sans", "titleFontSize": 10, "titleFontWeight": "normal", "titleColor": "#222", "titlePadding": 1, "labelFont": "Liberation Sans", "labelFontSize": 8, "labelColor": "#222", "labelPadding": 1, "tickSize": 3, "tickColor": "#888", "domainColor": "#8a8a8a", "domainWidth": 1.5, "grid": false, "minExtent": 18, "maxExtent": 18, "labelFlush": false, "labelOverlap": false}}},
   "layer": [
    {"data": {"name": "Db"}, "mark": {"type": "line", "color": "#c97a68", "strokeWidth": 1.1, "clip": true, "interpolate": "monotone"}},
    {"data": {"name": "labels"}, "transform": [{"filter": "datum.p == 'Db' && datum.k == 's'"}], "mark": {"type": "text", "font": "Liberation Sans", "fontWeight": "bold", "fontSize": 15, "color": "#111"}, "encoding": {"text": {"field": "t"}}}
   ]},
  {"width": 582, "height": 107, "view": {"stroke": "#8a8a8a", "strokeWidth": 1.5},
   "encoding": {"x": {"field": "x", "type": "quantitative", "scale": {"domain": [0, 15], "nice": false, "zero": false}, "axis": {"values": [0,0.2,0.4,0.6,0.8,1,1.2,1.4,1.6,1.8,2,2.2,2.4,2.6,2.8,3,3.2,3.4,3.6,3.8,4,4.2,4.4,4.6,4.8,5,5.2,5.4,5.6,5.8,6,6.2,6.4,6.6,6.8,7,7.2,7.4,7.6,7.8,8,8.2,8.4,8.6,8.8,9,9.2,9.4,9.6,9.8,10,10.2,10.4,10.6,10.8,11,11.2,11.4,11.6,11.8,12,12.2,12.4,12.6,12.8,13,13.2,13.4,13.6,13.8,14,14.2,14.4,14.6,14.8,15], "labelExpr": "abs(datum.value - round(datum.value)) < 0.01 ? format(datum.value, '.1f') : ''", "tickSize": {"condition": {"test": "abs(datum.value - round(datum.value)) < 0.01", "value": -5}, "value": -3}, "labelPadding": 7, "title": "min", "titleFont": "Liberation Sans", "titleFontSize": 7, "titleFontWeight": "normal", "titleColor": "#222", "titlePadding": 3, "labelFont": "Liberation Sans", "labelFontSize": 8, "labelColor": "#222", "labelOverlap": false, "labelFlush": false, "grid": false, "domainColor": "#8a8a8a", "domainWidth": 1.5, "tickColor": "#888"}},
     "y": {"field": "y", "type": "quantitative", "scale": {"domain": [-0.005, 0.02], "nice": false, "zero": false}, "axis": {"values": [0, 0.01, 0.02], "format": ".2f", "title": "AU", "titleFont": "Liberation Sans", "titleFontSize": 10, "titleFontWeight": "normal", "titleColor": "#222", "titlePadding": 1, "labelFont": "Liberation Sans", "labelFontSize": 8, "labelColor": "#222", "labelPadding": 1, "tickSize": 3, "tickColor": "#888", "domainColor": "#8a8a8a", "domainWidth": 1.5, "grid": false, "minExtent": 18, "maxExtent": 18, "labelFlush": false, "labelOverlap": false}}},
   "layer": [
    {"data": {"name": "Dc"}, "mark": {"type": "line", "color": "#f0896f", "strokeWidth": 1.1, "clip": true, "interpolate": "monotone"}},
    {"data": {"name": "labels"}, "transform": [{"filter": "datum.p == 'Dc' && datum.k == 'ceq'"}], "mark": {"type": "text", "font": "Liberation Sans", "fontWeight": "bold", "fontSize": 15, "color": "#111"}, "encoding": {"text": {"field": "t"}}},
    {"data": {"name": "labels"}, "transform": [{"filter": "datum.p == 'Dc' && datum.k == 's'"}], "mark": {"type": "text", "font": "Liberation Sans", "fontWeight": "bold", "fontSize": 15, "color": "#111"}, "encoding": {"text": {"field": "t"}}}
   ]}
 ]}
]}
]
}
